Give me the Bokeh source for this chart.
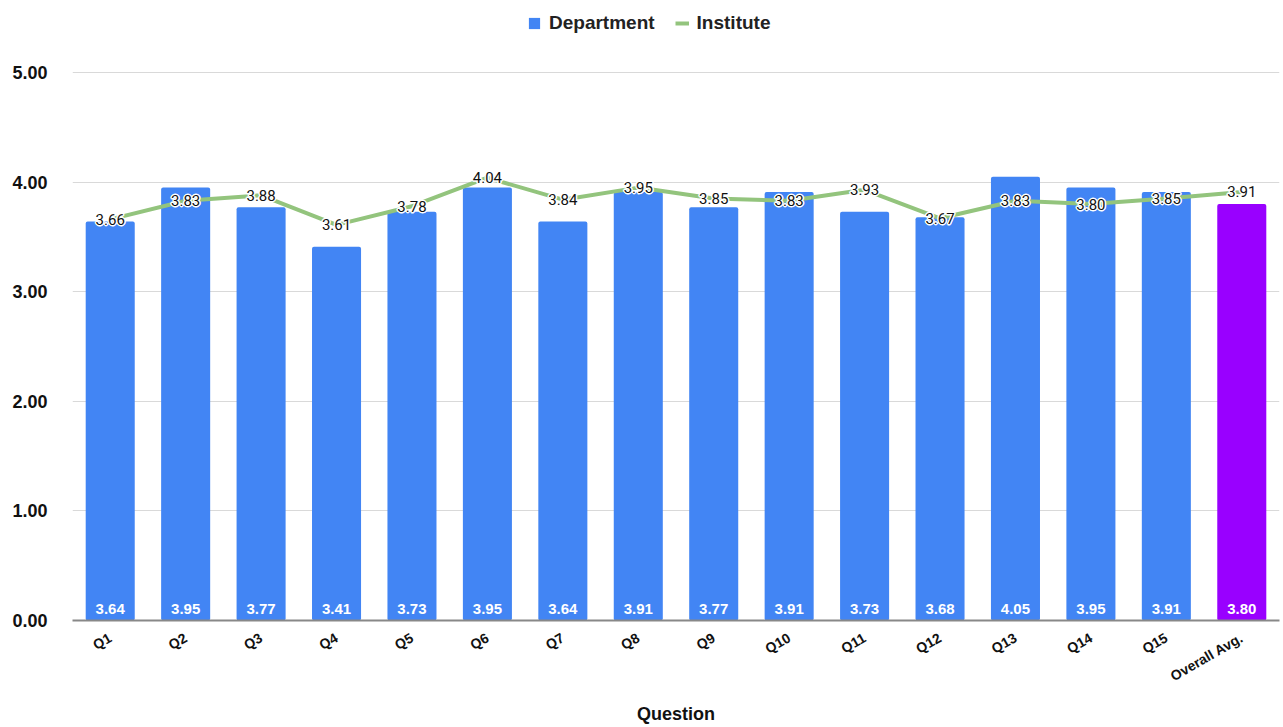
from bokeh.plotting import figure
from bokeh.models import ColumnDataSource, FactorRange, LabelSet, Legend, LegendItem, FixedTicker, NumeralTickFormatter
from bokeh.core.properties import value
from bokeh.embed import file_html
from bokeh.resources import INLINE
import math

categories = ["Q1", "Q2", "Q3", "Q4", "Q5", "Q6", "Q7", "Q8", "Q9", "Q10",
              "Q11", "Q12", "Q13", "Q14", "Q15", "Overall Avg."]
department = [3.64, 3.95, 3.77, 3.41, 3.73, 3.95, 3.64, 3.91, 3.77, 3.91,
              3.73, 3.68, 4.05, 3.95, 3.91, 3.80]
institute = [3.66, 3.83, 3.88, 3.61, 3.78, 4.04, 3.84, 3.95, 3.85, 3.83,
             3.93, 3.67, 3.83, 3.80, 3.85, 3.91]
bar_colors = ["#4285f4"] * 15 + ["#9900ff"]
y_ticks = [0, 1, 2, 3, 4, 5]

FONT = "Liberation Sans"
LFONT = "Roboto"

src = ColumnDataSource(dict(
    cat=categories,
    dep=department,
    inst=institute,
    color=bar_colors,
    dep_lbl=[f"{v:.2f}" for v in department],
    inst_lbl=[f"{v:.2f}" for v in institute],
    zero=[0] * len(categories),
))

p = figure(
    frame_width=1207, frame_height=610,
    x_range=FactorRange(*categories, range_padding=0.0),
    y_range=(0, 5.566),
    output_backend="svg", toolbar_location=None,
    min_border_left=72, min_border_right=4, min_border_top=10, min_border_bottom=107,
)
p.outline_line_color = None
p.background_fill_color = "white"

bars = p.vbar(x="cat", top="dep", width=0.65, source=src, fill_color="color", line_color=None,
              border_radius=2)
line = p.line(x="cat", y="inst", source=src, line_color="#93c47d", line_width=4)

for dx, dy in [(-1, 0), (1, 0), (0, -1), (0, 1)]:
    halo = LabelSet(x="cat", y="inst", text="inst_lbl", source=src,
                    text_align="center", text_baseline="middle", x_offset=dx, y_offset=dy,
                    text_font=value(LFONT), text_font_size="15px", text_color="white",
                    text_outline_color="white")
    p.add_layout(halo)
inst_labels = LabelSet(x="cat", y="inst", text="inst_lbl", source=src,
                       text_align="center", text_baseline="middle",
                       text_font=value(LFONT), text_font_size="15px", text_color="#111111")
p.add_layout(inst_labels)

dep_labels = LabelSet(x="cat", y="zero", text="dep_lbl", source=src,
                      text_align="center", text_baseline="bottom", y_offset=7,
                      text_font=value(FONT), text_font_size="15px", text_font_style="bold",
                      text_color="white")
p.add_layout(dep_labels)

# axes
p.yaxis.ticker = FixedTicker(ticks=y_ticks)
p.yaxis.formatter = NumeralTickFormatter(format="0.00")
p.yaxis.axis_line_color = None
p.yaxis.major_tick_line_color = None
p.yaxis.minor_tick_line_color = None
p.yaxis.major_label_text_font = FONT
p.yaxis.major_label_text_font_size = "18px"
p.yaxis.major_label_text_font_style = "bold"
p.yaxis.major_label_text_color = "#111111"
p.yaxis.major_label_standoff = 19

p.xaxis.axis_line_color = "#888888"
p.xaxis.axis_line_width = 2
p.xaxis.major_tick_line_color = None
p.xaxis.minor_tick_line_color = None
p.xaxis.major_label_orientation = math.radians(30)
p.xaxis.major_label_text_font = FONT
p.xaxis.major_label_text_font_size = "14px"
p.xaxis.major_label_text_font_style = "bold"
p.xaxis.major_label_text_color = "#111111"
p.xaxis.major_label_standoff = 10
p.xaxis.axis_label = "Question"
p.xaxis.axis_label_text_font = FONT
p.xaxis.axis_label_text_font_size = "18px"
p.xaxis.axis_label_text_font_style = "bold"
p.xaxis.axis_label_text_color = "#111111"
p.xaxis.axis_label_standoff = 10

p.xgrid.grid_line_color = None
p.ygrid.grid_line_color = "#d9d9d9"
p.ygrid.grid_line_width = 1

legend = Legend(items=[LegendItem(label="Department", renderers=[bars], index=0),
                       LegendItem(label="Institute", renderers=[line])],
                orientation="horizontal", location=(455, 586),
                border_line_color=None, background_fill_alpha=0,
                label_text_font=FONT, label_text_font_size="19px",
                label_text_font_style="bold", label_text_color="#222222",
                glyph_width=14, glyph_height=14, spacing=20, label_standoff=8,
                margin=0, padding=4)
p.add_layout(legend)

open("out.html", "w").write(file_html(p, INLINE))
